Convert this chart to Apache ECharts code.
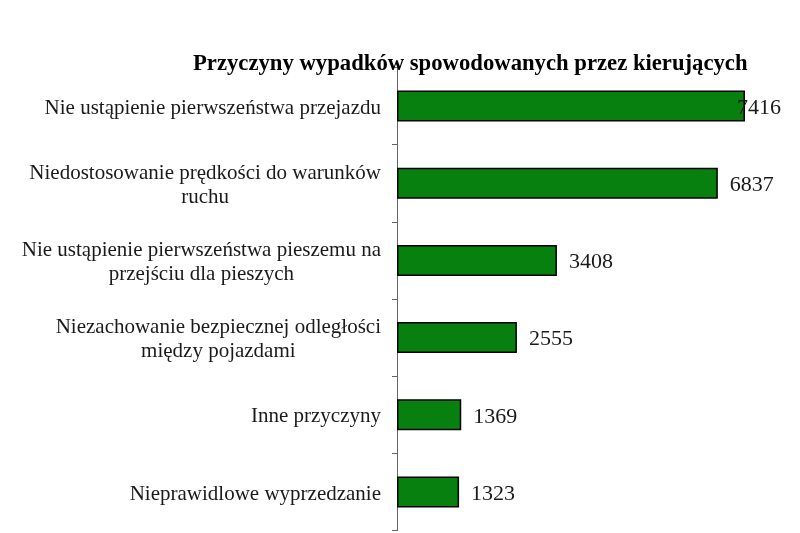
<!DOCTYPE html>
<html>
<head>
<meta charset="utf-8">
<script src="https://cdn.jsdelivr.net/npm/echarts@6/dist/echarts.min.js"></script>
<style>html,body{margin:0;padding:0;background:#fff;}#c{width:800px;height:533px;}</style>
</head>
<body>
<div id="c"></div>
<script>
var titleText = 'Przyczyny wypadków spowodowanych przez kierujących';
var categories = [
  'Nie ustąpienie pierwszeństwa przejazdu',
  'Niedostosowanie prędkości do warunków\nruchu',
  'Nie ustąpienie pierwszeństwa pieszemu na\nprzejściu dla pieszych',
  'Niezachowanie bezpiecznej odległości\nmiędzy pojazdami',
  'Inne przyczyny',
  'Nieprawidlowe wyprzedzanie'
];
var values = [7416, 6837, 3408, 2555, 1369, 1323];

var serif = '"Liberation Serif", "Times New Roman", "DejaVu Serif", serif';
var chart = echarts.init(document.getElementById('c'));
chart.setOption({
  animation: false,
  backgroundColor: '#fff',
  title: {
    text: titleText,
    left: 188,
    top: 48,
    textStyle: { fontFamily: serif, fontSize: 22.7, fontWeight: 'bold', color: '#000' }
  },
  grid: { left: 397, right: 27.6, top: 67.4, bottom: 2.4 },
  xAxis: {
    type: 'value', min: 0, max: 8000, show: false
  },
  yAxis: {
    type: 'category',
    data: categories,
    inverse: true,
    axisLine: { show: true, lineStyle: { color: '#666', width: 1 } },
    axisTick: { show: true, length: 5, lineStyle: { color: '#666' } },
    axisLabel: {
      margin: 16,
      padding: [4, 0, 0, 0],
      fontFamily: serif,
      fontSize: 21,
      lineHeight: 24,
      color: '#1a1a1a',
      formatter: function (v) {
        return v.split('\n').map(function (s) { return '{c|' + s + '}'; }).join('\n');
      },
      rich: { c: { align: 'center', fontFamily: serif, fontSize: 21, lineHeight: 24, color: '#1a1a1a' } }
    },
    splitLine: { show: false }
  },
  series: [{
    type: 'bar',
    barWidth: 31,
    z: 3,
    data: values.map(function (v, i) {
      return i === 0 ? { value: v, label: { offset: [-20, 2] } } : v;
    }),
    itemStyle: { color: '#088010', borderColor: '#000', borderWidth: 1.5 },
    label: {
      show: true,
      position: 'right',
      distance: 12,
      offset: [0, 2],
      fontFamily: serif,
      fontSize: 22,
      color: '#1a1a1a'
    }
  }]
});
</script>
</body>
</html>
